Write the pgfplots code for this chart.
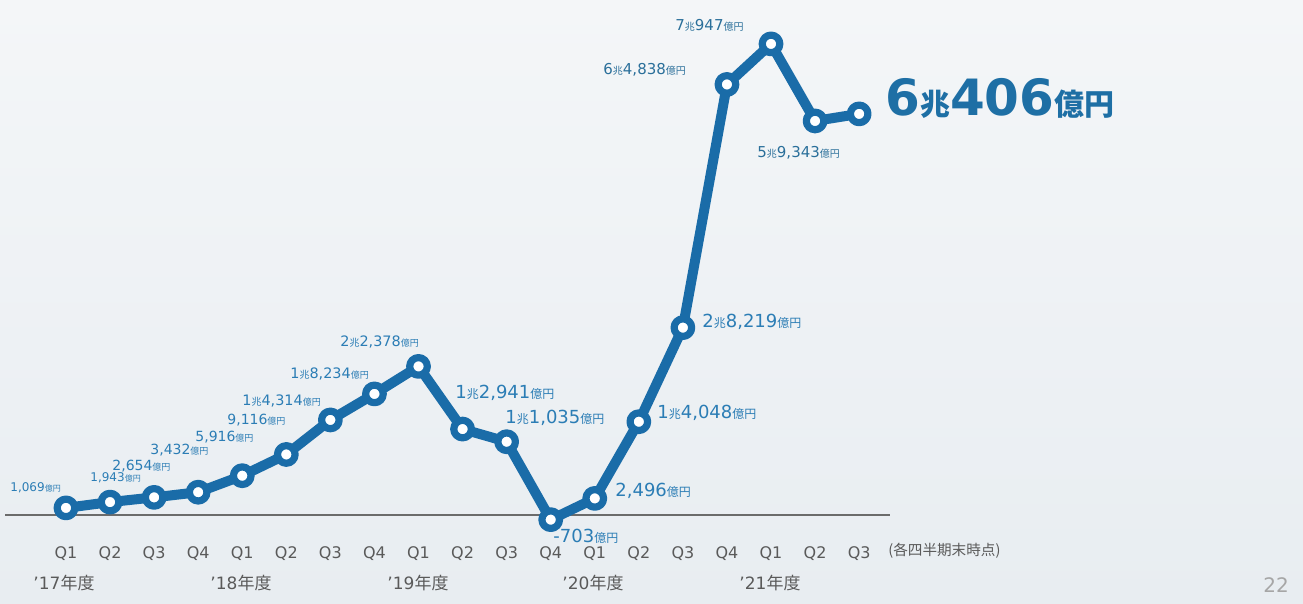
\documentclass[border=0pt]{standalone}
\usepackage{fontspec}
\usepackage{pgfplots}
\pgfplotsset{compat=1.18}
\setmainfont{DejaVu Sans}
\newfontfamily\jp{Noto Sans CJK JP}
\definecolor{lineblue}{HTML}{1A6CA8}
\definecolor{lblblue}{HTML}{2B7DB5}
\definecolor{topblue}{HTML}{2A6F9A}
\definecolor{bigblue}{HTML}{1E6FA5}
\definecolor{tickgray}{HTML}{5A5A5A}
\definecolor{bgtop}{HTML}{F4F6F8}
\definecolor{bgbot}{HTML}{E8EDF1}
\newcommand{\J}[2]{{\jp\fontsize{#1}{#1}\selectfont #2}}
\newcommand{\F}[1]{\fontsize{#1}{#1}\selectfont}
\begin{document}
\begin{tikzpicture}
\shade[top color=bgtop, bottom color=bgbot] (0,0) rectangle (651.5pt,302pt);
\begin{axis}[
  at={(2.5pt,37pt)}, anchor=south west,
  scale only axis, width=442.5pt, height=255pt,
  xmin=-1.384, xmax=18.70, ymin=-2259, ymax=74548,
  axis line style={draw=none}, ytick=\empty,
  xtick={0,...,18},
  xticklabels={Q1,Q2,Q3,Q4,Q1,Q2,Q3,Q4,Q1,Q2,Q3,Q4,Q1,Q2,Q3,Q4,Q1,Q2,Q3},
  major tick length=0pt,
  xticklabel style={font=\F{8pt}, text=tickgray, anchor=north, yshift=-5pt},
  clip=false,
]
\draw[color=tickgray!90, line width=1pt] (axis cs:-1.384,0) -- (axis cs:18.70,0);
\addplot[color=lineblue, line width=5pt, line join=round,
  mark=*, mark size=4.4pt,
  mark options={fill=white, draw=lineblue, line width=3.6pt}]
coordinates {
(0,1069) (1,1943) (2,2654) (3,3432) (4,5916) (5,9116) (6,14314) (7,18234)
(8,22378) (9,12941) (10,11035) (11,-703) (12,2496) (13,14048) (14,28219)
(15,64838) (16,70947) (17,59343) (18,60406)
};
\end{axis}
\begin{scope}[x=0.5pt,y=-0.5pt,shift={(0pt,302pt)}]
% small labels (left)
\begin{scope}[every node/.style={anchor=west, inner sep=0pt, text=lblblue}]
\node[font=\F{6pt}] at (10,488) {1,069\J{4pt}{億円}};
\node[font=\F{6pt}] at (90,478) {1,943\J{4pt}{億円}};
\node[font=\F{7pt}] at (112,466) {2,654\J{4.5pt}{億円}};
\node[font=\F{7pt}] at (150,450) {3,432\J{4.5pt}{億円}};
\node[font=\F{7pt}] at (195,437) {5,916\J{4.5pt}{億円}};
\node[font=\F{7pt}] at (227,420) {9,116\J{4.5pt}{億円}};
\node[font=\F{7.2pt}] at (242,401) {1\J{5pt}{兆}4,314\J{4.5pt}{億円}};
\node[font=\F{7.2pt}] at (290,374) {1\J{5pt}{兆}8,234\J{4.5pt}{億円}};
\node[font=\F{7.2pt}] at (340,342) {2\J{5pt}{兆}2,378\J{4.5pt}{億円}};
% middle labels
\node[font=\F{9pt}] at (455,393) {1\J{6pt}{兆}2,941\J{6pt}{億円}};
\node[font=\F{9pt}] at (505,418) {1\J{6pt}{兆}1,035\J{6pt}{億円}};
\node[font=\F{9pt}] at (553,536) {-703\J{6pt}{億円}};
\node[font=\F{9pt}] at (615,491) {2,496\J{6pt}{億円}};
\node[font=\F{9pt}] at (657,413) {1\J{6pt}{兆}4,048\J{6pt}{億円}};
\node[font=\F{9pt}] at (702,322) {2\J{6pt}{兆}8,219\J{6pt}{億円}};
% top labels
\node[font=\F{7.5pt}, text=topblue] at (603,70) {6\J{5pt}{兆}4,838\J{5pt}{億円}};
\node[font=\F{7.5pt}, text=topblue] at (675,25) {7\J{5pt}{兆}947\J{5pt}{億円}};
\node[font=\F{7.5pt}, text=topblue] at (757,153) {5\J{5pt}{兆}9,343\J{5pt}{億円}};
% big
\node[font=\F{25pt}\bfseries, text=bigblue] at (885,98) {6\J{15pt}{兆}406\J{15pt}{億円}};
\end{scope}
% year labels
\begin{scope}[every node/.style={inner sep=0pt, text=tickgray, font=\F{8.5pt}}]
\node at (64,583) {’17\J{8.5pt}{年度}};
\node at (241,583) {’18\J{8.5pt}{年度}};
\node at (418,583) {’19\J{8.5pt}{年度}};
\node at (593,583) {’20\J{8.5pt}{年度}};
\node at (770,583) {’21\J{8.5pt}{年度}};
\node[anchor=west] at (888,551) {\J{7.3pt}{(各四半期末時点)}};
\node[text=gray!70, font=\F{10pt}] at (1276,585) {22};
\end{scope}
\end{scope}
\end{tikzpicture}
\end{document}
